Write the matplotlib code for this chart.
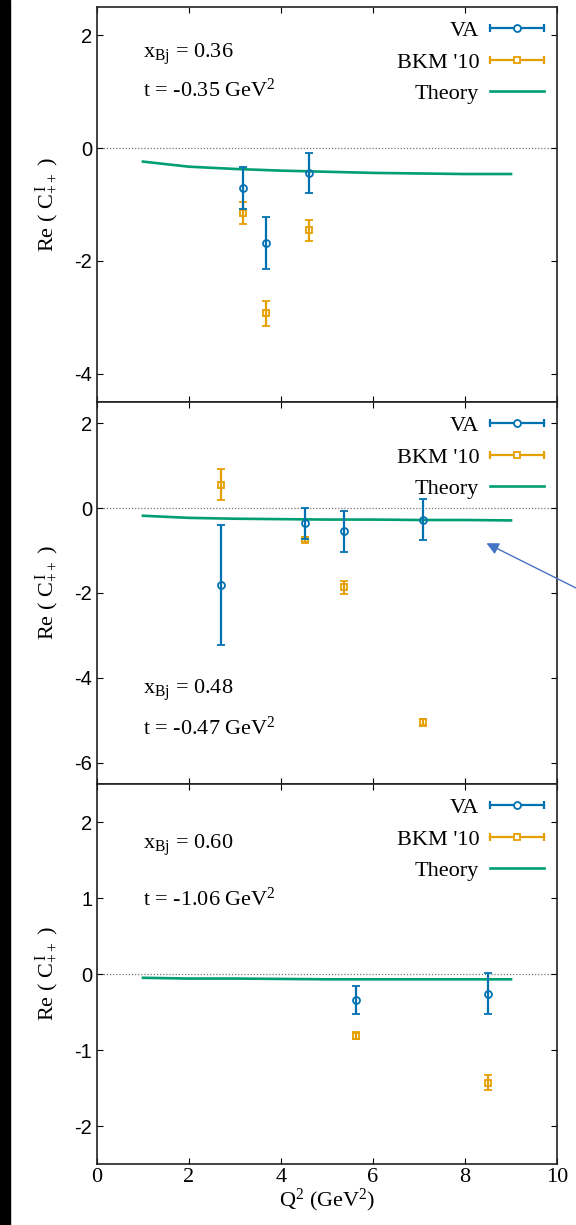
import matplotlib
matplotlib.use("Agg")
import matplotlib.pyplot as plt
from matplotlib.lines import Line2D
from matplotlib.legend_handler import HandlerBase
from matplotlib.patches import Rectangle, FancyArrowPatch

plt.rcParams['font.family'] = ['Liberation Serif', 'DejaVu Serif']
plt.rcParams['mathtext.fontset'] = 'custom'
plt.rcParams['mathtext.rm'] = 'Liberation Serif'
plt.rcParams['mathtext.it'] = 'Liberation Serif:italic'
plt.rcParams['mathtext.bf'] = 'Liberation Serif:bold'
plt.rcParams['axes.unicode_minus'] = False

BLUE = '#0072b2'
ORANGE = '#e69f00'
GREEN = '#009e73'

# ---- data ----
# panel 1: x_Bj = 0.36, t = -0.35
va1_x = [3.17, 3.67, 4.60]
va1_y = [-0.71, -1.69, -0.44]
va1_err = [0.37, 0.46, 0.36]
bkm1_x = [3.18, 3.68, 4.60]
bkm1_y = [-1.15, -2.93, -1.46]
bkm1_err = [0.19, 0.22, 0.19]
th1_y = [-0.24, -0.33, -0.37, -0.40, -0.42, -0.44, -0.45, -0.46, -0.46]

# panel 2: x_Bj = 0.48, t = -0.47
va2_x = [2.70, 4.52, 5.37, 7.09]
va2_y = [-1.81, -0.36, -0.55, -0.27]
va2_err = [1.42, 0.36, 0.48, 0.49]
bkm2_x = [2.70, 4.52, 5.37, 7.09]
bkm2_y = [0.55, -0.74, -1.87, -5.05]
bkm2_err = [0.36, 0.06, 0.15, 0.08]
th2_y = [-0.18, -0.23, -0.25, -0.26, -0.27, -0.27, -0.28, -0.28, -0.29]

# panel 3: x_Bj = 0.60, t = -1.06
va3_x = [5.64, 8.49]
va3_y = [-0.34, -0.26]
va3_err = [0.18, 0.27]
bkm3_x = [5.64, 8.49]
bkm3_y = [-0.81, -1.43]
bkm3_err = [0.05, 0.10]
th3_y = [-0.05, -0.06, -0.06, -0.065, -0.07, -0.07, -0.07, -0.07, -0.07]

th_x = [1, 2, 3, 4, 5, 6, 7, 8, 9]

panels = [
    dict(va=(va1_x, va1_y, va1_err), bkm=(bkm1_x, bkm1_y, bkm1_err), th=th1_y,
         ylim=(-4.5, 2.5), yticks=[-4, -2, 0, 2],
         xbj="0.36", t="-0.35", txt_y=(0.88, 0.79)),
    dict(va=(va2_x, va2_y, va2_err), bkm=(bkm2_x, bkm2_y, bkm2_err), th=th2_y,
         ylim=(-6.5, 2.5), yticks=[-6, -4, -2, 0, 2],
         xbj="0.48", t="-0.47", txt_y=(0.245, 0.147)),
    dict(va=(va3_x, va3_y, va3_err), bkm=(bkm3_x, bkm3_y, bkm3_err), th=th3_y,
         ylim=(-2.5, 2.5), yticks=[-2, -1, 0, 1, 2],
         xbj="0.60", t="-1.06", txt_y=(0.838, 0.697)),
]


class GnuErrHandler(HandlerBase):
    """gnuplot-style key sample: horizontal bar with end caps and a marker"""
    def __init__(self, color, marker):
        super().__init__()
        self.color = color
        self.marker = marker

    def create_artists(self, legend, orig_handle, xdescent, ydescent,
                       width, height, fontsize, trans):
        y = height / 2 - ydescent
        x0, x1 = -xdescent, width - xdescent
        line = Line2D([x0, x1], [y, y], color=self.color, lw=1.6)
        caps = Line2D([x0, x1], [y, y], ls='none', marker='|', ms=6,
                      mew=1.6, color=self.color)
        mk = Line2D([(x0 + x1) / 2], [y], ls='none', marker=self.marker,
                    ms=5, mfc='white', mec=self.color, mew=1.3)
        for a in (line, caps, mk):
            a.set_transform(trans)
        return [line, caps, mk]


fig = plt.figure(figsize=(5.76, 12.25), dpi=100)
fig.patches.append(Rectangle((0, 0), 10 / 576, 1, transform=fig.transFigure,
                             color='black', zorder=-1))

left, width = 97 / 576, 460 / 576
boxes = [(7, 402), (402, 784), (784, 1164)]

for i, (p, (top, bot)) in enumerate(zip(panels, boxes)):
    ax = fig.add_axes([left, 1 - bot / 1225, width, (bot - top) / 1225])
    ax.axhline(0, color='#777777', lw=0.9, ls=(0, (1, 1.5)), zorder=1)

    th, = ax.plot(th_x, p['th'], color=GREEN, lw=1.9, zorder=2)
    x, y, e = p['va']
    ax.errorbar(x, y, yerr=e, fmt='o', color=BLUE, ms=5, mfc='none',
                mew=1.3, elinewidth=1.6, capsize=2.8, capthick=1.6, zorder=4)
    x, y, e = p['bkm']
    ax.errorbar(x, y, yerr=e, fmt='s', color=ORANGE, ms=5, mfc='none',
                mew=1.3, elinewidth=1.6, capsize=2.8, capthick=1.6, zorder=3)

    ax.set_xlim(0, 10)
    ax.set_ylim(*p['ylim'])
    ax.set_xticks([0, 2, 4, 6, 8, 10])
    ax.set_yticks(p['yticks'])
    ax.tick_params(direction='in', top=True, right=True, length=4, width=0.8)
    for lab in ax.get_yticklabels():
        lab.set_fontfamily('Liberation Sans')
        lab.set_fontsize(14.5)
    if i < 2:
        ax.tick_params(labelbottom=False)
    else:
        ax.tick_params(axis='x', labelsize=16, pad=3)
        ax.set_xlabel(r"Q$^2$ (GeV$^2$)", fontsize=16, labelpad=0)
    for s in ax.spines.values():
        s.set_linewidth(1.2)
        s.set_color('#222222')

    ax.set_ylabel(r"Re ( C$_{++}^{\,\mathrm{I}}$ )", fontsize=16)
    ax.yaxis.set_label_coords(-0.078, 0.5)

    ax.text(0.1, p['txt_y'][0], r"x$_{\mathrm{Bj}}$ = " + p['xbj'],
            transform=ax.transAxes, fontsize=16, ha='left', va='center')
    ax.text(0.1, p['txt_y'][1], "t = " + p['t'] + r" GeV$^2$",
            transform=ax.transAxes, fontsize=16, ha='left', va='center')

    h_va = Line2D([], [], color=BLUE)
    h_bkm = Line2D([], [], color=ORANGE)
    ax.legend([h_va, h_bkm, th], ["VA", "BKM '10", "Theory"],
              handler_map={h_va: GnuErrHandler(BLUE, 'o'),
                           h_bkm: GnuErrHandler(ORANGE, 's')},
              loc='upper right', frameon=False, markerfirst=False,
              fontsize=16, handlelength=2.4, handletextpad=0.5,
              labelspacing=0.5, borderaxespad=0.4, borderpad=0.2)

# blue pointer arrow overlaid on the middle panel
arrow = FancyArrowPatch((600 / 576, 1 - 600 / 1225), (484 / 576, 1 - 542 / 1225),
                        transform=fig.transFigure, arrowstyle='-|>',
                        mutation_scale=18, color='#4472c4', lw=1.0)
fig.patches.append(arrow)

fig.savefig('out.png', dpi=100)
